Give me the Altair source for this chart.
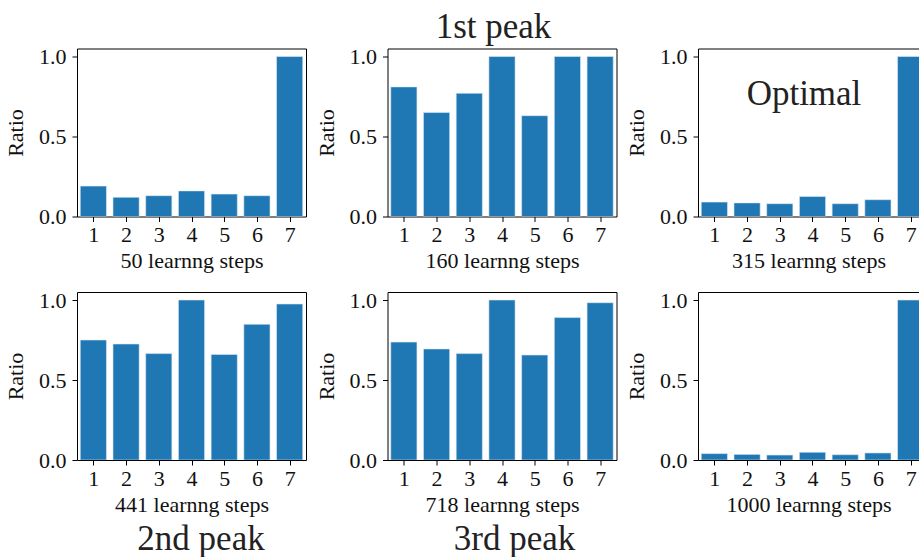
import altair as alt
import pandas as pd

# Category positions on the x axis and tick values on the y axis
positions = [1, 2, 3, 4, 5, 6, 7]
y_ticks = [0.0, 0.5, 1.0]

# Ratio per category at each training checkpoint
ratio_50 = [0.19, 0.12, 0.13, 0.16, 0.14, 0.13, 1.00]
ratio_160 = [0.81, 0.65, 0.77, 1.00, 0.63, 1.00, 1.00]
ratio_315 = [0.09, 0.085, 0.08, 0.125, 0.08, 0.105, 1.00]
ratio_441 = [0.75, 0.725, 0.665, 1.00, 0.66, 0.848, 0.975]
ratio_718 = [0.737, 0.694, 0.665, 1.00, 0.656, 0.89, 0.983]
ratio_1000 = [0.04, 0.035, 0.031, 0.048, 0.033, 0.044, 1.00]

step_titles = [
    "50 learnng steps", "160 learnng steps", "315 learnng steps",
    "441 learnng steps", "718 learnng steps", "1000 learnng steps",
]
note_texts = ["1st peak", "Optimal", "2nd peak", "3rd peak"]

SERIF = "Liberation Serif"
BLUE = "#1f77b4"
INK = "#111111"
FULL_W, CUT_W, PANEL_H = 229, 221, 168


def panel(values, xtitle, cut=False, note=None, note_xy=None):
    df = pd.DataFrame({"pos": positions, "ratio": values})
    df["lo"] = df["pos"] - 0.4
    df["hi"] = df["pos"] + 0.4
    x_hi = 0.5 + 7 * CUT_W / FULL_W if cut else 7.5
    xs = alt.Scale(domain=[0.5, x_hi], nice=False, zero=False)
    ys = alt.Scale(domain=[0, 1.05], nice=False)

    bars = alt.Chart(df).mark_bar(color=BLUE, clip=True, stroke="#dbe8f3",
                                  strokeWidth=0.6).encode(
        x=alt.X("lo:Q", scale=xs, axis=alt.Axis(
            values=positions, title=xtitle, grid=False, labelFlush=False,
            labelPadding=3, titlePadding=5)),
        x2="hi:Q",
        y=alt.Y("ratio:Q", scale=ys, axis=alt.Axis(
            values=y_ticks, format=".1f", title="Ratio", grid=False,
            labelFlush=False, labelPadding=6, titlePadding=11)),
        y2=alt.datum(0),
    )
    # invisible copy that carries the top / right frame lines
    frame_y = alt.Y("ratio:Q", axis=None) if cut else alt.Y(
        "ratio:Q", axis=alt.Axis(orient="right", labels=False, ticks=False,
                                 title=None, grid=False))
    frame = alt.Chart(df).mark_bar(opacity=0, clip=True).encode(
        x=alt.X("lo:Q", axis=alt.Axis(orient="top", labels=False, ticks=False,
                                      title=None, grid=False)),
        x2="hi:Q",
        y=frame_y,
        y2=alt.datum(0),
    )
    layers = [bars, frame]
    if note is not None:
        layers.append(
            alt.Chart(pd.DataFrame({"t": [note]})).mark_text(
                font=SERIF, fontSize=35, color="#222222", baseline="alphabetic",
                align="center",
            ).encode(text="t:N", x=alt.value(note_xy[0]), y=alt.value(note_xy[1]))
        )
    width = CUT_W if cut else FULL_W
    return alt.layer(*layers).resolve_axis(x="independent", y="independent").properties(
        width=width, height=PANEL_H
    )


p1 = panel(ratio_50, step_titles[0])
p2 = panel(ratio_160, step_titles[1], note=note_texts[0], note_xy=(106, -11))
p3 = panel(ratio_315, step_titles[2], cut=True, note=note_texts[1], note_xy=(106, 56))
p4 = panel(ratio_441, step_titles[3], note=note_texts[2], note_xy=(124, 258))
p5 = panel(ratio_718, step_titles[4], note=note_texts[3], note_xy=(127, 258))
p6 = panel(ratio_1000, step_titles[5], cut=True)

chart = alt.concat(
    p1, p2, p3, p4, p5, p6, columns=3, spacing={"row": 75.5, "column": 81.5}
).properties(
    bounds="flush",
    padding={"left": 4, "top": 9.5, "right": 0, "bottom": 0},
).configure_view(
    stroke=None
).configure_axis(
    labelFont=SERIF, titleFont=SERIF, labelFontSize=22, titleFontSize=22,
    labelColor=INK, titleColor=INK, titleFontWeight="normal",
    domainColor="#000000", domainWidth=1, tickColor="#000000", tickSize=5,
    tickWidth=1,
)

chart.save("out.html", embed_options={"renderer": "svg", "actions": False})
